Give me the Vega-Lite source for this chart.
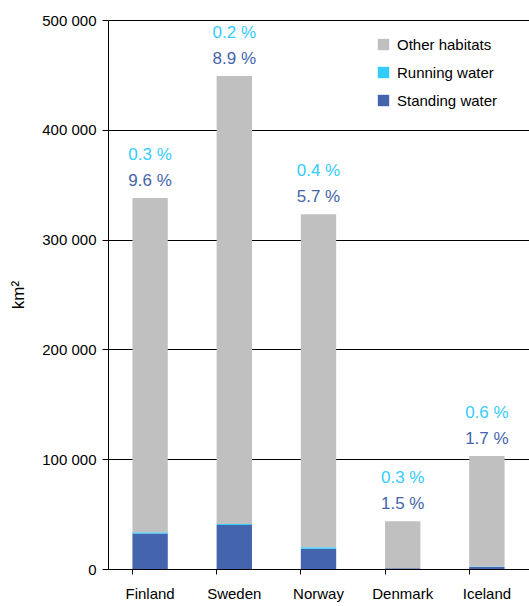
{
  "$schema": "https://vega.github.io/schema/vega-lite/v6.json",
  "width": 421,
  "height": 549,
  "autosize": {"type": "none"},
  "padding": {"left": 108, "top": 20, "right": 0, "bottom": 37},
  "background": "white",
  "config": {
    "font": "Liberation Sans",
    "view": {"stroke": null},
    "axis": {"labelFont": "Liberation Sans", "titleFont": "Liberation Sans"}
  },
  "data": {
    "values": [
      {"country": "Finland", "habitat": "Standing water", "order": 1, "km2": 32400, "share": "9.6 %"},
      {"country": "Finland", "habitat": "Running water", "order": 2, "km2": 1000, "share": "0.3 %"},
      {"country": "Finland", "habitat": "Other habitats", "order": 3, "km2": 304600, "share": ""},
      {"country": "Sweden", "habitat": "Standing water", "order": 1, "km2": 40000, "share": "8.9 %"},
      {"country": "Sweden", "habitat": "Running water", "order": 2, "km2": 900, "share": "0.2 %"},
      {"country": "Sweden", "habitat": "Other habitats", "order": 3, "km2": 408100, "share": ""},
      {"country": "Norway", "habitat": "Standing water", "order": 1, "km2": 18400, "share": "5.7 %"},
      {"country": "Norway", "habitat": "Running water", "order": 2, "km2": 1300, "share": "0.4 %"},
      {"country": "Norway", "habitat": "Other habitats", "order": 3, "km2": 303300, "share": ""},
      {"country": "Denmark", "habitat": "Standing water", "order": 1, "km2": 650, "share": "1.5 %"},
      {"country": "Denmark", "habitat": "Running water", "order": 2, "km2": 130, "share": "0.3 %"},
      {"country": "Denmark", "habitat": "Other habitats", "order": 3, "km2": 42720, "share": ""},
      {"country": "Iceland", "habitat": "Standing water", "order": 1, "km2": 1750, "share": "1.7 %"},
      {"country": "Iceland", "habitat": "Running water", "order": 2, "km2": 620, "share": "0.6 %"},
      {"country": "Iceland", "habitat": "Other habitats", "order": 3, "km2": 100630, "share": ""}
    ]
  },
  "encoding": {
    "x": {
      "field": "country",
      "type": "nominal",
      "sort": ["Finland", "Sweden", "Norway", "Denmark", "Iceland"],
      "scale": {"paddingInner": 0.58, "paddingOuter": 0.29},
      "axis": {
        "title": null,
        "labelAngle": 0,
        "labelFontSize": 15,
        "labelColor": "#000000",
        "labelPadding": 12,
        "domainColor": "#000000",
        "domainWidth": 1,
        "tickColor": "#000000",
        "tickSize": 5,
        "bandPosition": 0,
        "grid": false
      }
    }
  },
  "layer": [
    {
      "mark": {"type": "bar"},
      "encoding": {
        "y": {
          "field": "km2",
          "type": "quantitative",
          "aggregate": "sum",
          "stack": "zero",
          "scale": {"domain": [0, 500000], "nice": false},
          "axis": {
            "title": "km²",
            "titleFontSize": 17,
            "titleFontWeight": "normal",
            "titleColor": "#000000",
            "titlePadding": 14,
            "values": [0, 100000, 200000, 300000, 400000, 500000],
            "labelExpr": "replace(format(datum.value, ','), ',', ' ')",
            "labelFontSize": 15,
            "labelColor": "#000000",
            "labelPadding": 6,
            "tickSize": 6,
            "tickColor": "#000000",
            "domainColor": "#000000",
            "grid": true,
            "gridColor": "#000000",
            "gridWidth": 1
          }
        },
        "color": {
          "field": "habitat",
          "type": "nominal",
          "sort": ["Other habitats", "Running water", "Standing water"],
          "scale": {
            "domain": ["Other habitats", "Running water", "Standing water"],
            "range": ["#C0C0C0", "#33CCFF", "#4464AD"]
          },
          "legend": {
            "title": null,
            "orient": "none",
            "legendX": 268,
            "legendY": 17,
            "symbolType": "square",
            "symbolSize": 130,
            "symbolStrokeWidth": 0,
            "labelFontSize": 15,
            "labelColor": "#000000",
            "rowPadding": 12,
            "labelOffset": 6
          }
        },
        "order": {"field": "order", "type": "quantitative"}
      }
    },
    {
      "transform": [
        {"joinaggregate": [{"op": "sum", "field": "km2", "as": "total"}], "groupby": ["country"]},
        {"filter": "datum.habitat === 'Standing water'"}
      ],
      "mark": {"type": "text", "fontSize": 17, "dy": -12, "baseline": "alphabetic", "color": "#4464AD"},
      "encoding": {
        "y": {"field": "total", "type": "quantitative"},
        "text": {"field": "share"}
      }
    },
    {
      "transform": [
        {"joinaggregate": [{"op": "sum", "field": "km2", "as": "total"}], "groupby": ["country"]},
        {"filter": "datum.habitat === 'Running water'"}
      ],
      "mark": {"type": "text", "fontSize": 17, "dy": -38, "baseline": "alphabetic", "color": "#33CCFF"},
      "encoding": {
        "y": {"field": "total", "type": "quantitative"},
        "text": {"field": "share"}
      }
    }
  ]
}
